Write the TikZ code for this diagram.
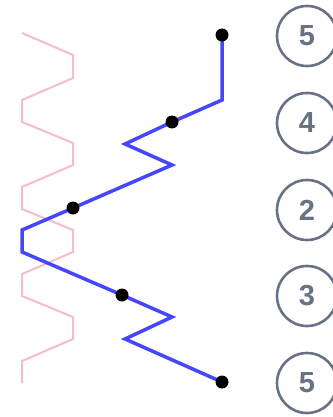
\documentclass[tikz,border=0pt]{standalone}
\usepackage{fontspec}
\setmainfont{Liberation Sans}
\usetikzlibrary{backgrounds}
\definecolor{pinkline}{RGB}{245,190,198}
\definecolor{blueline}{RGB}{70,70,255}
\definecolor{grayring}{RGB}{104,114,132}
\begin{document}
\begin{tikzpicture}[x=1pt,y=-1pt,
  dotnode/.style={circle,fill=black,inner sep=0pt,minimum size=13pt},
  ring/.style={circle,draw=grayring,line width=2.6pt,minimum size=60pt,inner sep=0pt,text=grayring,font=\fontsize{29}{29}\selectfont\bfseries},
  bluepath/.style={draw=blueline,line width=3.5pt,line join=miter},
  pinkpath/.style={draw=pinkline,line width=2pt}]
\useasboundingbox (0,0) rectangle (332,417);
% dots
\node[dotnode] (d1) at (222,35) {};
\node[dotnode] (d2) at (172,122) {};
\node[dotnode] (d3) at (73,208) {};
\node[dotnode] (d4) at (122,295) {};
\node[dotnode] (d5) at (222,382) {};
\coordinate (c1) at (222,100);
\coordinate (c2) at (125,144);
\coordinate (c3) at (172,165);
\coordinate (c4) at (22,230);
\coordinate (c5) at (22,252);
\coordinate (c6) at (172,317);
\coordinate (c7) at (125,339);
\begin{scope}[on background layer]
% pink zigzag
\draw[pinkpath] (22,33) -- (73,55) -- (73,78) -- (22,100) -- (22,122) -- (73,143) -- (73,165) -- (22,187) -- (22,209) -- (73,230) -- (73,252) -- (22,274) -- (22,296) -- (73,317) -- (73,339) -- (22,361) -- (22,383);
% blue path
\draw[bluepath] (d1.center) -- (c1) -- (d2.center) -- (c2) -- (c3) -- (d3.center) -- (c4) -- (c5) -- (d4.center) -- (c6) -- (c7) -- (d5.center);
\end{scope}
% rings
\node[ring] (r1) at (307,36) {5};
\node[ring] (r2) at (307,123) {4};
\node[ring] (r3) at (307,210) {2};
\node[ring] (r4) at (307,296) {3};
\node[ring] (r5) at (307,383) {5};
\end{tikzpicture}
\end{document}
